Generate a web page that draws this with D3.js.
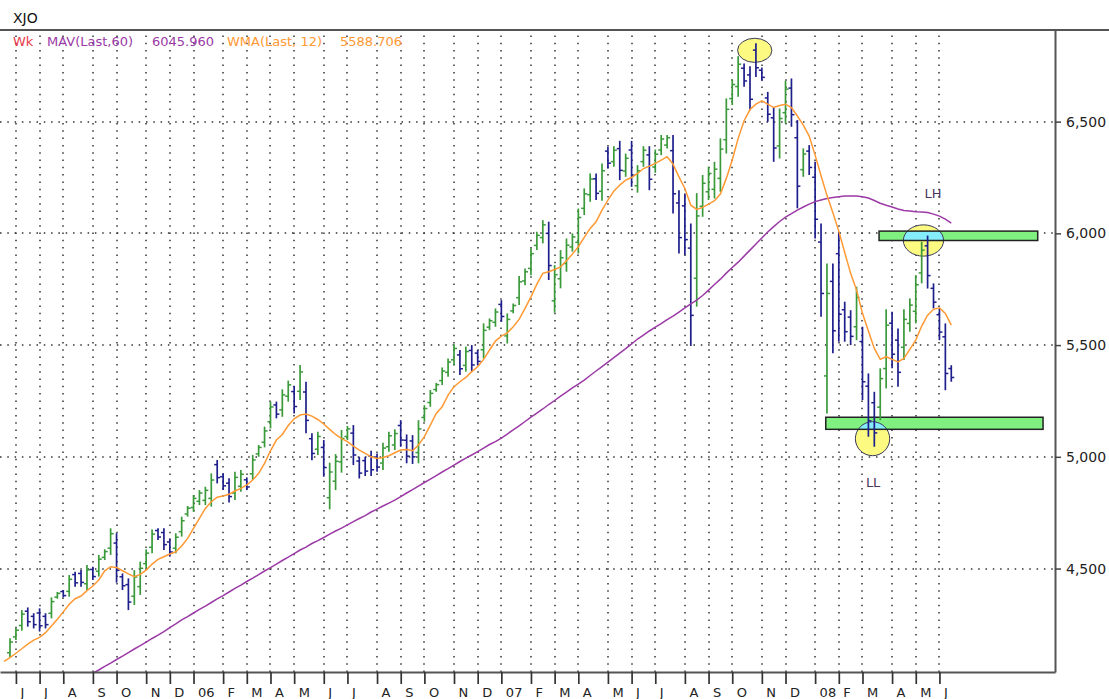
<!DOCTYPE html>
<html>
<head>
<meta charset="utf-8">
<script src="https://cdn.jsdelivr.net/npm/d3@7"></script>
<style>
  body { margin: 0; background: #fff; }
  svg { display: block; font-family: "DejaVu Sans", Verdana, sans-serif; }
</style>
</head>
<body>
<div id="chart"></div>
<script>
// weekly XJO bars, first bar = week of Mon 30 May 2005
const firstWeek = new Date(2005, 4, 30);

const highs = [
  4188, 4235, 4314, 4326, 4300, 4322, 4300, 4371, 4395, 4404,
  4471, 4486, 4493, 4516, 4508, 4561, 4586, 4680, 4658, 4478,
  4456, 4493, 4531, 4586, 4675, 4680, 4680, 4635, 4658, 4732,
  4780, 4829, 4851, 4866, 4926, 4986, 4926, 4904, 4933, 4941,
  4908, 5008, 5053, 5135, 5247, 5247, 5302, 5341, 5317, 5411,
  5336, 5105, 5112, 5075, 4974, 5012, 5120, 5138, 5142, 5000,
  5000, 5027, 5015, 5063, 5112, 5123, 5164, 5100, 5097, 5164,
  5231, 5299, 5331, 5400, 5440, 5504, 5478, 5493, 5500, 5478,
  5597, 5619, 5664, 5701, 5642, 5686, 5809, 5843, 5933, 6007,
  6059, 6052, 5858, 5925, 5977, 6000, 6111, 6201, 6268, 6268,
  6313, 6387, 6390, 6414, 6357, 6414, 6305, 6390, 6390, 6375,
  6440, 6440, 6440, 6193, 6178, 6044, 6180, 6261, 6298, 6320,
  6425, 6604, 6689, 6793, 6760, 6748, 6851, 6742, 6633, 6566,
  6559, 6683, 6693, 6507, 6380, 6395, 6320, 6044, 5865, 5865,
  6007, 5694, 5656, 5761, 5582, 5373, 5291, 5396, 5660, 5649,
  5574, 5660, 5709, 5813, 5962, 5990, 5776, 5664, 5597, 5410
];
const lows = [
  4101, 4180, 4222, 4240, 4232, 4218, 4232, 4277, 4365, 4371,
  4374, 4419, 4419, 4404, 4449, 4464, 4538, 4561, 4437, 4404,
  4314, 4337, 4382, 4501, 4568, 4628, 4583, 4553, 4568, 4643,
  4732, 4754, 4784, 4784, 4777, 4881, 4851, 4795, 4807, 4844,
  4851, 4896, 5000, 5042, 5127, 5172, 5179, 5247, 5194, 5254,
  5105, 4985, 5008, 4911, 4765, 4851, 4929, 5075, 4963, 4903,
  4914, 4914, 4933, 4941, 5023, 5030, 5045, 4971, 4968, 4971,
  5157, 5224, 5291, 5321, 5358, 5410, 5366, 5381, 5381, 5410,
  5440, 5567, 5582, 5604, 5507, 5642, 5679, 5768, 5813, 5925,
  5955, 5791, 5645, 5754, 5828, 5918, 5910, 6082, 6141, 6149,
  6146, 6290, 6298, 6238, 6253, 6208, 6182, 6298, 6193, 6271,
  6350, 6380, 6089, 5910, 5903, 5496, 5672, 6074, 6149, 6156,
  6186, 6357, 6574, 6611, 6656, 6551, 6700, 6683, 6499, 6320,
  6335, 6492, 6477, 6112, 6253, 6261, 5977, 5627, 5194, 5463,
  5515, 5515, 5500, 5522, 5254, 5090, 5045, 5164, 5306, 5396,
  5313, 5433, 5560, 5597, 5776, 5753, 5664, 5522, 5298, 5336
];
const opens = [
  4123, 4194, 4245, 4309, 4286, 4301, 4286, 4300, 4372, 4397,
  4398, 4473, 4478, 4432, 4496, 4488, 4550, 4591, 4614, 4463,
  4428, 4376, 4419, 4522, 4595, 4670, 4661, 4619, 4591, 4665,
  4744, 4773, 4801, 4805, 4814, 4965, 4911, 4882, 4838, 4868,
  4897, 4924, 5013, 5065, 5157, 5232, 5210, 5271, 5292, 5293,
  5290, 5081, 5034, 5042, 4817, 4891, 4977, 5091, 5106, 4981,
  4983, 5004, 4999, 4972, 5045, 5053, 5140, 5074, 5071, 5019,
  5176, 5243, 5301, 5341, 5378, 5434, 5456, 5409, 5476, 5464,
  5479, 5580, 5602, 5682, 5541, 5653, 5712, 5787, 5843, 5946,
  5981, 6000, 5698, 5797, 5865, 5939, 5960, 6112, 6173, 6244,
  6188, 6368, 6321, 6379, 6279, 6373, 6213, 6321, 6351, 6297,
  6373, 6395, 6370, 6136, 6123, 5934, 5799, 6121, 6186, 6197,
  6246, 6419, 6603, 6657, 6739, 6709, 6820, 6730, 6606, 6517,
  6391, 6540, 6650, 6428, 6285, 6368, 6251, 5961, 5362, 5785,
  5909, 5658, 5625, 5582, 5516, 5316, 5242, 5222, 5395, 5598,
  5522, 5490, 5597, 5651, 5823, 5944, 5754, 5636, 5537, 5395
];
const closes = [
  4171, 4224, 4296, 4262, 4249, 4244, 4249, 4352, 4389, 4379,
  4452, 4436, 4438, 4494, 4464, 4542, 4576, 4656, 4492, 4423,
  4350, 4462, 4501, 4569, 4654, 4641, 4607, 4574, 4640, 4714,
  4770, 4814, 4838, 4850, 4896, 4907, 4870, 4822, 4908, 4922,
  4865, 4986, 5042, 5116, 5223, 5191, 5277, 5322, 5225, 5380,
  5163, 5015, 5091, 4952, 4932, 4980, 5082, 5125, 5008, 4927,
  4936, 4942, 4954, 5039, 5094, 5104, 5075, 5003, 5000, 5125,
  5216, 5284, 5323, 5384, 5424, 5485, 5394, 5471, 5411, 5427,
  5566, 5609, 5648, 5628, 5615, 5677, 5783, 5828, 5909, 5991,
  6038, 5856, 5815, 5891, 5947, 5984, 6071, 6177, 6243, 6179,
  6280, 6314, 6372, 6282, 6336, 6260, 6280, 6372, 6242, 6354,
  6422, 6428, 6177, 5981, 5972, 5633, 6078, 6224, 6268, 6287,
  6377, 6555, 6666, 6757, 6682, 6600, 6741, 6698, 6533, 6382,
  6514, 6645, 6531, 6211, 6355, 6295, 6063, 5731, 5731, 5564,
  5638, 5560, 5539, 5713, 5336, 5161, 5107, 5350, 5589, 5459,
  5378, 5615, 5679, 5770, 5925, 5811, 5692, 5558, 5373, 5355
];

// WMA(Last,12), starts one week before the first bar
const wmaStart = new Date(2005, 4, 23);
const wma12 = [
  4085,
  4101, 4121, 4141, 4162, 4180, 4192, 4213, 4243, 4273, 4306,
  4340, 4365, 4377, 4401, 4422, 4449, 4490, 4508, 4505, 4490,
  4476, 4464, 4474, 4493, 4520, 4541, 4553, 4565, 4575, 4601,
  4635, 4680, 4725, 4769, 4799, 4819, 4825, 4832, 4847, 4859,
  4874, 4896, 4926, 4971, 5027, 5075, 5100, 5140, 5170, 5187,
  5191, 5182, 5167, 5147, 5123, 5100, 5081, 5068, 5048, 5030,
  5015, 5000, 4993, 4997, 5005, 5018, 5030, 5033, 5027, 5053,
  5090, 5142, 5194, 5224, 5276, 5314, 5336, 5355, 5381, 5403,
  5436, 5478, 5518, 5540, 5555, 5582, 5615, 5664, 5716, 5773,
  5821, 5828, 5838, 5850, 5877, 5907, 5940, 5982, 6022, 6052,
  6104, 6149, 6189, 6216, 6238, 6250, 6268, 6290, 6301, 6313,
  6328, 6343, 6310, 6253, 6201, 6126, 6107, 6116, 6131, 6146,
  6176, 6246, 6328, 6425, 6504, 6554, 6578, 6593, 6578, 6563,
  6572, 6578, 6563, 6525, 6484, 6435, 6350, 6258, 6170, 6092,
  6010, 5914, 5821, 5746, 5642, 5563, 5485, 5436, 5448, 5436,
  5425, 5440, 5481, 5522, 5585, 5634, 5660, 5667, 5642, 5589
];

// MAV(Last,60), visible from early September 2005
const mavStart = new Date(2005, 8, 5);
const mav60 = [
  4032, 4046, 4062, 4077, 4093, 4108, 4124, 4140, 4155, 4171,
  4187, 4202, 4218, 4236, 4252, 4270, 4285, 4301, 4317, 4332,
  4348, 4364, 4379, 4395, 4411, 4426, 4442, 4457, 4473, 4489,
  4504, 4520, 4536, 4551, 4567, 4583, 4596, 4612, 4625, 4639,
  4654, 4668, 4681, 4695, 4710, 4724, 4737, 4753, 4766, 4780,
  4793, 4806, 4822, 4838, 4853, 4869, 4885, 4900, 4916, 4932,
  4947, 4963, 4979, 4994, 5008, 5023, 5039, 5055, 5068, 5084,
  5102, 5120, 5138, 5158, 5178, 5196, 5214, 5234, 5252, 5272,
  5290, 5308, 5325, 5343, 5364, 5384, 5404, 5424, 5444, 5464,
  5484, 5505, 5527, 5545, 5563, 5580, 5596, 5614, 5630, 5648,
  5666, 5684, 5701, 5722, 5746, 5771, 5795, 5822, 5847, 5871,
  5898, 5925, 5952, 5979, 6006, 6030, 6053, 6073, 6088, 6104,
  6118, 6131, 6142, 6149, 6156, 6160, 6164, 6167, 6167, 6167,
  6164, 6158, 6147, 6135, 6126, 6118, 6109, 6102, 6100, 6097,
  6095, 6093, 6086, 6077, 6064, 6046
];

const priceTicks = [4500, 5000, 5500, 6000, 6500];
const legendItems = [
  { text: "Wk", color: "#e8384a" },
  { text: "MAV(Last,60)", color: "#9b3aa6" },
  { text: "6045.960", color: "#9b3aa6" },
  { text: "WMA(Last, 12)", color: "#ff9933" },
  { text: "5588.706", color: "#ff9933" }
];
// markings drawn on the chart (week offset from first bar, price)
const zones = [
  { w0: 146.8, w1: 173.6, top: 6010, bottom: 5968 },
  { w0: 137.8, w1: 174.5, top: 5177, bottom: 5123 }
];
const circles = [
  { w: 125.8, v: 6819, rw: 2.9, rv: 54 },
  { w: 154.3, v: 5968, rw: 3.4, rv: 70 },
  { w: 145.7, v: 5081, rw: 2.9, rv: 76 }
];
const notes = [
  { text: "LH", w: 155.9, v: 6160 },
  { text: "LL", w: 145.8, v: 4867 }
];

const width = 1109, height = 699;
const plot = { left: 0, right: 1055, top: 30, bottom: 672 };
const pxPerWeek = 5.92, firstBarX = 10;
const msWeek = 7 * 864e5;
const green = "#3a9a3a", blue = "#1e1e8c";

const weekDate = w => new Date(+firstWeek + w * msWeek);

const x = d3.scaleTime()
  .domain([weekDate(-firstBarX / pxPerWeek), weekDate((plot.right - firstBarX) / pxPerWeek)])
  .range([plot.left, plot.right]);
const y = d3.scaleLinear()
  .domain([4037, 6910])
  .range([plot.bottom, plot.top]);

const bars = highs.map((h, i) => ({
  date: d3.timeWeek.offset(firstWeek, i),
  h: h, l: lows[i], o: opens[i], c: closes[i]
}));
const wmaPts = wma12.map((v, i) => ({ date: d3.timeWeek.offset(wmaStart, i), v: v }));
const mavPts = mav60.map((v, i) => ({ date: d3.timeWeek.offset(mavStart, i), v: v }));

const monthTicks = d3.timeMonth.range(new Date(2005, 5, 1), new Date(2008, 6, 1))
  .map(m => d3.timeMonday.ceil(m));
const monthLabel = d => d.getMonth() === 0 ? d3.timeFormat("%y")(d) : d3.timeFormat("%b")(d)[0];

const svg = d3.select("#chart").append("svg")
  .attr("width", width)
  .attr("height", height);

svg.append("rect").attr("width", width).attr("height", height).attr("fill", "#fff");

svg.append("clipPath").attr("id", "plotclip")
  .append("rect")
  .attr("x", plot.left).attr("y", plot.top)
  .attr("width", plot.right - plot.left).attr("height", plot.bottom - plot.top);

// dotted grid
const grid = svg.append("g").attr("stroke", "#333").attr("stroke-width", 1.5)
  .attr("stroke-dasharray", "1.5,5.8");
grid.selectAll(".vg").data(monthTicks).enter().append("line")
  .attr("x1", d => Math.round(x(d))).attr("x2", d => Math.round(x(d)))
  .attr("y1", plot.bottom).attr("y2", plot.top);
grid.selectAll(".hg").data(priceTicks).enter().append("line")
  .attr("x1", plot.left).attr("x2", plot.right)
  .attr("y1", d => Math.round(y(d))).attr("y2", d => Math.round(y(d)));

const g = svg.append("g").attr("clip-path", "url(#plotclip)");

// zones and circles
const cx = d => x(weekDate(d.w));
const ellipseAttrs = sel => sel
  .attr("cx", cx).attr("cy", d => y(d.v))
  .attr("rx", d => x(weekDate(d.w + d.rw)) - cx(d))
  .attr("ry", d => y(d.v - d.rv) - y(d.v));
const zoneAttrs = sel => sel
  .attr("x", d => x(weekDate(d.w0)))
  .attr("y", d => y(d.top))
  .attr("width", d => x(weekDate(d.w1)) - x(weekDate(d.w0)))
  .attr("height", d => y(d.bottom) - y(d.top));

g.selectAll(".circ").data(circles).enter().append("ellipse")
  .call(ellipseAttrs).attr("fill", "#fcfa80");
g.selectAll(".zone").data(zones).enter().append("rect")
  .call(zoneAttrs).attr("fill", "#80f080");
zones.forEach((z, k) => {
  svg.append("clipPath").attr("id", "zclip" + k)
    .append("rect").datum(z).call(zoneAttrs);
  g.append("g").attr("clip-path", `url(#zclip${k})`)
    .selectAll("ellipse").data(circles).enter().append("ellipse")
    .call(ellipseAttrs).attr("fill", "#84ecfa");
});
g.selectAll(".circline").data(circles).enter().append("ellipse")
  .call(ellipseAttrs).attr("fill", "none").attr("stroke", "#3a3a5a").attr("stroke-width", 1);
g.selectAll(".zoneline").data(zones).enter().append("rect")
  .call(zoneAttrs).attr("fill", "none").attr("stroke", "#222").attr("stroke-width", 1.5);

// OHLC bars
const barG = g.append("g").selectAll("g").data(bars).enter().append("g")
  .attr("stroke", d => d.c >= d.o ? green : blue);
barG.append("line")
  .attr("x1", d => x(d.date)).attr("x2", d => x(d.date))
  .attr("y1", d => y(d.h)).attr("y2", d => y(d.l))
  .attr("stroke-width", 1.7);
barG.append("line")
  .attr("x1", d => x(d.date) - 3).attr("x2", d => x(d.date))
  .attr("y1", d => y(d.o)).attr("y2", d => y(d.o))
  .attr("stroke-width", 1.5);
barG.append("line")
  .attr("x1", d => x(d.date)).attr("x2", d => x(d.date) + 3)
  .attr("y1", d => y(d.c)).attr("y2", d => y(d.c))
  .attr("stroke-width", 1.5);

// moving averages
const maLine = d3.line().x(d => x(d.date)).y(d => y(d.v));
g.append("path").datum(mavPts).attr("d", maLine)
  .attr("fill", "none").attr("stroke", "#9b3aa6").attr("stroke-width", 1.5);
g.append("path").datum(wmaPts).attr("d", maLine)
  .attr("fill", "none").attr("stroke", "#ff9933").attr("stroke-width", 1.5);

// notes
svg.selectAll(".note").data(notes).enter().append("text")
  .attr("x", d => x(weekDate(d.w))).attr("y", d => y(d.v))
  .attr("text-anchor", "middle").attr("font-size", 13).attr("fill", "#4a3560")
  .text(d => d.text);

// axes
const yAxis = svg.append("g")
  .attr("transform", `translate(${plot.right},0)`)
  .call(d3.axisRight(y).tickValues(priceTicks).tickFormat(d3.format(","))
    .tickSize(6).tickSizeOuter(0).tickPadding(5));
yAxis.selectAll("text").attr("font-size", 14).attr("fill", "#222")
  .attr("font-family", "DejaVu Sans, Verdana, sans-serif");
yAxis.selectAll("line").attr("stroke", "#444").attr("stroke-width", 1.5);
yAxis.select(".domain").attr("stroke", "#555").attr("stroke-width", 2);

const xAxis = svg.append("g")
  .attr("transform", `translate(0,${plot.bottom})`)
  .call(d3.axisBottom(x).tickValues(monthTicks).tickFormat(monthLabel)
    .tickSize(12).tickSizeOuter(0));
xAxis.select(".domain").attr("stroke", "#555").attr("stroke-width", 2);
xAxis.selectAll("line").attr("stroke", "#333").attr("stroke-width", 1.7);
xAxis.selectAll("text")
  .attr("text-anchor", "start").attr("x", 4).attr("y", 16)
  .attr("font-size", 13).attr("fill", "#222")
  .attr("font-family", "DejaVu Sans, Verdana, sans-serif");

// title bar and legend
svg.append("line").attr("x1", 0).attr("x2", width)
  .attr("y1", plot.top).attr("y2", plot.top)
  .attr("stroke", "#555").attr("stroke-width", 2);
svg.append("text").attr("x", 13).attr("y", 23)
  .attr("font-size", 14).attr("fill", "#111").text("XJO");

const legendX = [13, 47, 152, 227, 340];
svg.selectAll(".leg").data(legendItems).enter().append("text")
  .attr("x", (d, i) => legendX[i]).attr("y", 46)
  .attr("font-size", 13).attr("fill", d => d.color)
  .text(d => d.text);
</script>
</body>
</html>
